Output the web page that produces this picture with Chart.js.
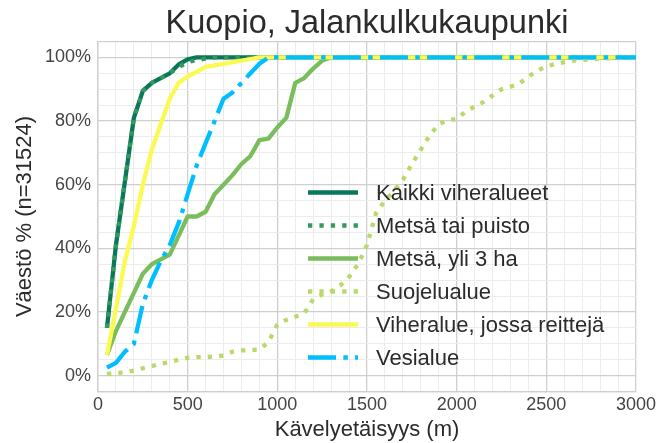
<!DOCTYPE html>
<html>
<head>
<meta charset="utf-8">
<script src="https://cdn.jsdelivr.net/npm/chart.js@4/dist/chart.umd.min.js"></script>
<style>
html, body { margin: 0; padding: 0; background: #fff; }
#wrap { width: 662px; height: 443px; }
</style>
</head>
<body>
<div id="wrap"><canvas id="chart" width="662" height="443"></canvas></div>
<script>
// walking distance (m)
var distances = [
  50, 100, 150, 200, 250, 300, 350, 400, 450, 500,
  550, 600, 650, 700, 750, 800, 850, 900, 950, 1000,
  1050, 1100, 1150, 1200, 1250, 1300, 1350, 1400, 1450, 1500,
  1550, 1600, 1650, 1700, 1750, 1800, 1850, 1900, 1950, 2000,
  2050, 2100, 2150, 2200, 2250, 2300, 2350, 2400, 2450, 2500,
  2550, 2600, 2650, 2700, 2750, 2800, 2850, 2900, 2950, 3000
];

// share of population (%) within each distance
var kaikki = [
  15, 41, 61, 81, 89.5, 92, 93.5, 95, 97.8, 99.4,
  100, 100, 100, 100, 100, 100, 100, 100, 100, 100,
  100, 100, 100, 100, 100, 100, 100, 100, 100, 100,
  100, 100, 100, 100, 100, 100, 100, 100, 100, 100,
  100, 100, 100, 100, 100, 100, 100, 100, 100, 100,
  100, 100, 100, 100, 100, 100, 100, 100, 100, 100
];
var metsaPuisto = [
  15, 41, 61, 81, 89.5, 92, 93.5, 95, 97, 98.5,
  99.2, 99.6, 100, 100, 100, 100, 100, 100, 100, 100,
  100, 100, 100, 100, 100, 100, 100, 100, 100, 100,
  100, 100, 100, 100, 100, 100, 100, 100, 100, 100,
  100, 100, 100, 100, 100, 100, 100, 100, 100, 100,
  100, 100, 100, 100, 100, 100, 100, 100, 100, 100
];
var metsa3ha = [
  6.5, 14, 20, 26, 32, 35, 36.5, 38, 44, 50,
  50, 51.5, 57, 60, 63, 66.5, 69, 74, 74.5, 78,
  81, 92, 93.5, 96.5, 99, 100, 100, 100, 100, 100,
  100, 100, 100, 100, 100, 100, 100, 100, 100, 100,
  100, 100, 100, 100, 100, 100, 100, 100, 100, 100,
  100, 100, 100, 100, 100, 100, 100, 100, 100, 100
];
var suojelu = [
  0.5, 0.7, 1.1, 1.6, 2.3, 3, 3.7, 4.3, 5, 5.6,
  5.8, 5.8, 6, 6.3, 7.5, 7.9, 8, 8.2, 10.5, 16,
  17.5, 18.5, 19.6, 24, 25.5, 26.5, 28.3, 31, 35, 41,
  51, 55, 58, 61.5, 66.5, 71, 75.5, 79, 80.3, 80.6,
  83, 84.5, 86, 88, 90, 90.8, 91.8, 94, 95.8, 97.2,
  97.9, 98.5, 99, 99.2, 99.4, 99.6, 99.7, 99.8, 99.9, 100
];
var viheralue = [
  6.5, 21, 36, 47, 60, 71, 79, 87, 92, 94,
  95.5, 97, 97.5, 98, 98.5, 99, 99.5, 100, 100, 100,
  100, 100, 100, 100, 100, 100, 100, 100, 100, 100,
  100, 100, 100, 100, 100, 100, 100, 100, 100, 100,
  100, 100, 100, 100, 100, 100, 100, 100, 100, 100,
  100, 100, 100, 100, 100, 100, 100, 100, 100, 100
];
var vesialue = [
  2.5, 4, 7.5, 10, 22.5, 30, 36, 41, 48, 57,
  66, 73, 80, 87, 89, 92, 95, 98, 100, 100,
  100, 100, 100, 100, 100, 100, 100, 100, 100, 100,
  100, 100, 100, 100, 100, 100, 100, 100, 100, 100,
  100, 100, 100, 100, 100, 100, 100, 100, 100, 100,
  100, 100, 100, 100, 100, 100, 100, 100, 100, 100
];

var seriesNames = ['Kaikki viheralueet', 'Metsä tai puisto', 'Metsä, yli 3 ha', 'Suojelualue', 'Viheralue, jossa reittejä', 'Vesialue'];
var seriesValues = [kaikki, metsaPuisto, metsa3ha, suojelu, viheralue, vesialue];
var xTickLabels = [0, 500, 1000, 1500, 2000, 2500, 3000];
var yTickLabels = [0, 20, 40, 60, 80, 100];

var FONT = '"Liberation Sans", Arial, sans-serif';
var colors = ['#0b775a', '#35985c', '#7abd5c', '#b9da6b', '#fbfa55', '#00bfff'];
var dashes = [[], [4.3, 7.1], [], [4.3, 7.1], [], [28, 7.3, 4.5, 7.3]];
var MAJOR = '#cfcfcf', MINOR = '#ececec';

var datasets = seriesNames.map(function (name, i) {
  return {
    label: name,
    data: distances.map(function (d, j) { return { x: d, y: seriesValues[i][j] }; }),
    borderColor: colors[i],
    borderWidth: 4.3,
    borderDash: dashes[i],
    borderCapStyle: 'butt',
    borderJoinStyle: 'round',
    pointRadius: 0,
    fill: false,
    tension: 0,
    order: seriesNames.length - i // later series drawn on top
  };
});

// title centred over the plot area
var titlePlugin = {
  id: 'plotTitle',
  afterDraw: function (chart) {
    var ctx = chart.ctx, a = chart.chartArea;
    ctx.save();
    ctx.fillStyle = '#2b2b2b';
    ctx.font = '32.5px ' + FONT;
    ctx.textAlign = 'center';
    ctx.textBaseline = 'alphabetic';
    ctx.fillText('Kuopio, Jalankulkukaupunki', (a.left + a.right) / 2, 33);
    ctx.restore();
  }
};

// legend inside the plot, no frame
var legendPlugin = {
  id: 'innerLegend',
  afterDatasetsDraw: function (chart) {
    var ctx = chart.ctx, a = chart.chartArea;
    var x0 = a.left + 210, y0 = a.top + 151;
    ctx.save();
    for (var i = 0; i < seriesNames.length; i++) {
      var y = y0 + i * 33;
      ctx.beginPath();
      ctx.setLineDash(dashes[i]);
      ctx.lineCap = 'butt';
      ctx.lineWidth = 4.3;
      ctx.strokeStyle = colors[i];
      ctx.moveTo(x0, y);
      ctx.lineTo(x0 + 50, y);
      ctx.stroke();
      ctx.setLineDash([]);
      ctx.fillStyle = '#2b2b2b';
      ctx.font = '22px ' + FONT;
      ctx.textAlign = 'left';
      ctx.textBaseline = 'middle';
      ctx.fillText(seriesNames[i], x0 + 68, y + 1);
    }
    ctx.restore();
  }
};

new Chart(document.getElementById('chart'), {
  type: 'line',
  data: { datasets: datasets },
  plugins: [titlePlugin, legendPlugin],
  options: {
    responsive: false,
    animation: false,
    layout: { padding: { top: 41.5, right: 26, left: 0, bottom: 0 } },
    plugins: { legend: { display: false }, tooltip: { enabled: false } },
    scales: {
      x: {
        type: 'linear',
        min: 0,
        max: 3000,
        afterFit: function (scale) { scale.height = 51.5; },
        ticks: {
          stepSize: 100,
          autoSkip: false,
          maxRotation: 0,
          padding: 3,
          color: '#444',
          font: { family: FONT, size: 18 },
          callback: function (v) { return xTickLabels.indexOf(v) >= 0 ? String(v) : ''; }
        },
        grid: {
          drawTicks: false,
          color: function (c) { return c.tick && c.tick.value % 500 === 0 ? MAJOR : MINOR; },
          lineWidth: function (c) { return c.tick && c.tick.value % 500 === 0 ? 1.3 : 1; }
        },
        border: { display: true, color: MAJOR, width: 1.3 },
        title: {
          display: true,
          text: 'Kävelyetäisyys (m)',
          color: '#2b2b2b',
          font: { family: FONT, size: 22 },
          padding: { top: 0, bottom: 0 }
        }
      },
      y: {
        min: -5,
        max: 105,
        afterFit: function (scale) { scale.width = 98; },
        ticks: {
          stepSize: 5,
          autoSkip: false,
          padding: 7,
          color: '#444',
          font: { family: FONT, size: 18 },
          callback: function (v) { return yTickLabels.indexOf(v) >= 0 ? v + '%' : ''; }
        },
        grid: {
          drawTicks: false,
          color: function (c) {
            var v = c.tick ? c.tick.value : 0;
            return (v % 20 === 0 || v === -5 || v === 105) ? MAJOR : MINOR;
          },
          lineWidth: function (c) {
            var v = c.tick ? c.tick.value : 0;
            return (v % 20 === 0 || v === -5 || v === 105) ? 1.3 : 1;
          }
        },
        border: { display: true, color: MAJOR, width: 1.3 },
        title: {
          display: true,
          text: 'Väestö % (n=31524)',
          color: '#2b2b2b',
          font: { family: FONT, size: 22 },
          padding: { top: 12, bottom: 0 }
        }
      }
    }
  }
});
</script>
</body>
</html>
